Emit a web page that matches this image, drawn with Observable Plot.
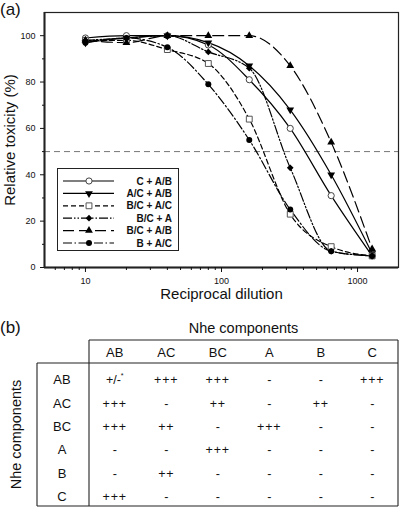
<!DOCTYPE html>
<html><head><meta charset="utf-8">
<script src="https://cdn.jsdelivr.net/npm/d3@7"></script>
<script src="https://cdn.jsdelivr.net/npm/@observablehq/plot@0.6"></script>
<style>
html,body{margin:0;padding:0;background:#fff;}
#root{position:relative;width:400px;height:507px;font-family:"Liberation Sans",Arial,sans-serif;color:#111;overflow:hidden;}
.abs{position:absolute;white-space:nowrap;}
</style></head><body><div id="root"></div>
<script>
// ---------- Panel (a) data ----------
const dilutions = [10, 20, 40, 80, 160, 320, 640, 1280];
const seriesNames = ["C + A/B", "A/C + A/B", "B/C + A/C", "B/C + A", "B/C + A/B", "B + A/C"];
const valsC_AB   = [99, 100, 100, 96, 81, 60, 31, 5];
const valsAC_AB  = [97, 99, 100, 97, 87, 68, 40, 6];
const valsBC_AC  = [98, 98, 94, 88, 64, 23, 9, 5];
const valsBC_A   = [98, 99, 100, 93, 86, 43, 7, 5];
const valsBC_AB  = [98, 97, 100, 100, 100, 87, 54, 8];
const valsB_AC   = [97, 99, 95, 79, 55, 25, 7, 5];
const threshold = 50;
const xDomain = [5, 2000];
const yDomain = [0, 110];
const xTicks = [10, 100, 1000];
const xMinorTicks = [6, 7, 8, 9, 20, 30, 40, 50, 60, 70, 80, 90, 200, 300, 400, 500, 600, 700, 800, 900];
const yTicks = [0, 20, 40, 60, 80, 100];
const yMinorTicks = [10, 30, 50, 70, 90];
const xLabel = "Reciprocal dilution";
const yLabel = "Relative toxicity (%)";

// ---------- Panel (b) data ----------
const tableTitle = "Nhe components";
const colLabels = ["AB", "AC", "BC", "A", "B", "C"];
const rowLabels = ["AB", "AC", "BC", "A", "B", "C"];
const rowAB = ["+/-*", "+++", "+++", "-", "-", "+++"];
const rowAC = ["+++", "-", "++", "-", "++", "-"];
const rowBC = ["+++", "++", "-", "+++", "-", "-"];
const rowA  = ["-", "-", "+++", "-", "-", "-"];
const rowB  = ["-", "++", "-", "-", "-", "-"];
const rowC  = ["+++", "-", "-", "-", "-", "-"];

// ---------- build ----------
const allVals = [valsC_AB, valsAC_AB, valsBC_AC, valsBC_A, valsBC_AB, valsB_AC];
const rows = seriesNames.flatMap((s, k) => dilutions.map((d, i) => ({series: s, dilution: d, value: allVals[k][i]})));

const sqrt3 = Math.sqrt(3);
const triangleDown = {
  draw(context, size) {
    const y = Math.sqrt(size / (sqrt3 * 3));
    context.moveTo(0, y * 2);
    context.lineTo(-sqrt3 * y, -y);
    context.lineTo(sqrt3 * y, -y);
    context.closePath();
  }
};

const styles = {
  "C + A/B":   {symbol: "circle",   d3sym: d3.symbolCircle,   fill: "white", stroke: "#444", r: 3.1, dash: null},
  "A/C + A/B": {symbol: triangleDown, d3sym: triangleDown,    fill: "#000",  stroke: "none", r: 2.9, dash: null},
  "B/C + A/C": {symbol: "square",   d3sym: d3.symbolSquare,   fill: "white", stroke: "#555", r: 3.3, dash: "5,3"},
  "B/C + A":   {symbol: "diamond2", d3sym: d3.symbolDiamond2, fill: "#000",  stroke: "none", r: 3.0, dash: "9,2,1.5,2,1.5,2"},
  "B/C + A/B": {symbol: "triangle", d3sym: d3.symbolTriangle, fill: "#000",  stroke: "none", r: 2.9, dash: "11,5"},
  "B + A/C":   {symbol: "circle",   d3sym: d3.symbolCircle,   fill: "#000",  stroke: "none", r: 3.0, dash: "9,2.5,1.5,2.5"}
};

const root = document.getElementById("root");

const lineMarks = seriesNames.map(s => Plot.line(rows.filter(d => d.series === s), {
  x: "dilution", y: "value", curve: "monotone-x", stroke: "#000", strokeWidth: 1.2,
  strokeDasharray: styles[s].dash
}));
const dotMarks = seriesNames.map(s => Plot.dot(rows.filter(d => d.series === s), {
  x: "dilution", y: "value", symbol: styles[s].symbol, r: styles[s].r,
  fill: styles[s].fill, stroke: styles[s].stroke, strokeWidth: 1
}));

const chart = Plot.plot({
  width: 400, height: 300,
  marginLeft: 44, marginRight: 2, marginTop: 12, marginBottom: 33,
  style: {fontFamily: "Liberation Sans, Arial, sans-serif", fontSize: "9px", color: "#111", background: "white", overflow: "visible"},
  x: {type: "log", domain: xDomain, label: null},
  y: {domain: yDomain, label: null},
  marks: [
    Plot.ruleY([threshold], {stroke: "#777", strokeWidth: 1, strokeDasharray: "6,4"}),
    ...lineMarks,
    ...dotMarks,
    Plot.frame({stroke: "#222", strokeWidth: 1.2}),
    Plot.ruleX([xDomain[0]], {stroke: "#222", strokeWidth: 2}),
    Plot.ruleY([yDomain[0]], {stroke: "#222", strokeWidth: 2}),
    Plot.axisX({ticks: xTicks, tickSize: 5, tickPadding: 5, tickFormat: d => String(d), label: null}),
    Plot.axisX({ticks: xMinorTicks, tickSize: 3, tickFormat: () => "", label: null}),
    Plot.axisY({ticks: yTicks, tickSize: 4, tickPadding: 5, tickFormat: d => String(d), label: null}),
    Plot.axisY({ticks: yMinorTicks, tickSize: 2, tickFormat: () => "", label: null}),
    Plot.text([xLabel], {text: d => d, frameAnchor: "bottom", lineAnchor: "middle", textAnchor: "middle", dy: 27, fontSize: 15, fill: "#111"}),
    Plot.text([yLabel], {text: d => d, frameAnchor: "left", lineAnchor: "middle", textAnchor: "middle", dx: -34, rotate: -90, fontSize: 15, fill: "#111"})
  ]
});
chart.style.position = "absolute";
chart.style.left = "0px";
chart.style.top = "0px";
root.appendChild(chart);

// panel labels
function addText(txt, left, top, size, extra) {
  const d = document.createElement("div");
  d.className = "abs";
  d.textContent = txt;
  d.style.left = left + "px";
  d.style.top = top + "px";
  d.style.fontSize = size + "px";
  d.style.lineHeight = "1";
  if (extra) Object.assign(d.style, extra);
  root.appendChild(d);
  return d;
}
addText("(a)", 0, 1, 17);
addText("(b)", 0, 319, 17);

// legend (inside plot area)
const lg = d3.create("svg").attr("width", 123).attr("height", 84)
  .style("position", "absolute").style("left", "57px").style("top", "168px")
  .style("font-family", "Liberation Sans, Arial, sans-serif");
lg.append("rect").attr("x", 0.5).attr("y", 0.5).attr("width", 121).attr("height", 82)
  .attr("fill", "white").attr("stroke", "#222").attr("stroke-width", 1);
seriesNames.forEach((s, i) => {
  const st = styles[s];
  const y = 13 + i * 12.4;
  lg.append("line").attr("x1", 6).attr("x2", 57).attr("y1", y).attr("y2", y)
    .attr("stroke", "#000").attr("stroke-width", 1.2).attr("stroke-dasharray", st.dash);
  lg.append("path").attr("transform", `translate(32,${y})`)
    .attr("d", d3.symbol().type(st.d3sym).size(Math.PI * st.r * st.r)())
    .attr("fill", st.fill).attr("stroke", st.stroke).attr("stroke-width", 1);
  lg.append("text").attr("x", 115).attr("y", y).attr("dy", "0.35em").attr("text-anchor", "end")
    .attr("font-size", 10).attr("font-weight", "bold").attr("fill", "#111").text(s);
});
root.appendChild(lg.node());

// ---------- table (b) ----------
const cellRows = [rowAB, rowAC, rowBC, rowA, rowB, rowC];
const xs = d3.scaleBand().domain(colLabels).range([89, 398]);
const ys = d3.scaleBand().domain(rowLabels).range([368, 508]);
const tb = d3.create("svg").attr("width", 400).attr("height", 507)
  .style("position", "absolute").style("left", "0px").style("top", "0px")
  .style("font-family", "Liberation Sans, Arial, sans-serif");
const L = (x1, y1, x2, y2) => tb.append("line").attr("x1", x1).attr("y1", y1).attr("x2", x2).attr("y2", y2)
  .attr("stroke", "#222").attr("stroke-width", 1.1);
const xl = xs.range()[0], xr = xs.range()[1];
L(xl, 340, xr, 340);
L(37, 363, xr, 363);
L(xl, 340, xl, 506);
L(xr, 340, xr, 506);
L(37, 363, 37, 506);
L(37, 506, xr, 506);
tb.append("text").attr("x", (xl + xr) / 2).attr("y", 333).attr("text-anchor", "middle")
  .attr("font-size", 14.5).attr("fill", "#111").text(tableTitle);
tb.append("text").attr("transform", `translate(21,${(363 + 506) / 2}) rotate(-90)`).attr("text-anchor", "middle")
  .attr("font-size", 14.5).attr("fill", "#111").text(tableTitle);
colLabels.forEach(c => {
  tb.append("text").attr("x", xs(c) + xs.bandwidth() / 2).attr("y", 352).attr("dy", "0.36em")
    .attr("text-anchor", "middle").attr("font-size", 13).attr("fill", "#111").text(c);
});
rowLabels.forEach((r, i) => {
  const yc = ys(r) + ys.bandwidth() / 2;
  tb.append("text").attr("x", 62).attr("y", yc).attr("dy", "0.36em")
    .attr("text-anchor", "middle").attr("font-size", 13).attr("fill", "#111").text(r);
  cellRows[i].forEach((v, j) => {
    const hasStar = v.endsWith("*");
    const t = tb.append("text").attr("x", xs(colLabels[j]) + xs.bandwidth() / 2).attr("y", yc).attr("dy", "0.36em")
      .attr("text-anchor", "middle").attr("font-size", 12.5).attr("letter-spacing", v.startsWith("+") && !hasStar ? "0.8px" : "0")
      .attr("fill", "#111");
    if (hasStar) {
      t.append("tspan").text(v.slice(0, -1));
      t.append("tspan").attr("font-size", 7).attr("dy", "-0.9em").text("*");
    } else {
      t.text(v);
    }
  });
});
root.appendChild(tb.node());
</script></body></html>
